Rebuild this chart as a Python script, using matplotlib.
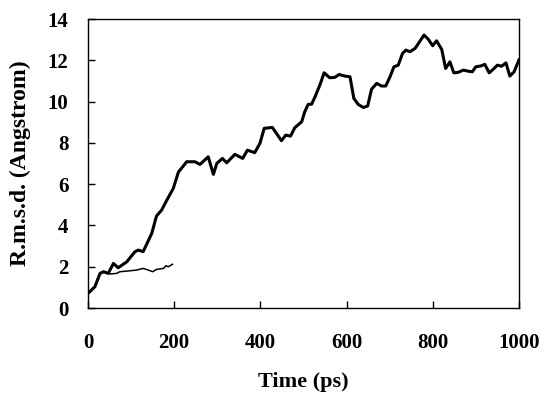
import matplotlib
matplotlib.use('Agg')
import matplotlib.pyplot as plt

# long run (thick line)
time_long = [0, 16, 28, 36, 47, 59, 70, 90, 109, 117, 128, 148, 159, 171, 183, 198,
             210, 217, 229, 248, 260, 279, 291, 299, 312, 322, 341, 359, 370, 387,
             399, 409, 428, 449, 459, 470, 480, 496, 503, 511, 519, 527, 538, 548,
             561, 573, 583, 596, 608, 617, 627, 639, 649, 658, 670, 681, 691, 701,
             710, 720, 730, 738, 747, 759, 780, 790, 800, 809, 821, 830, 840, 849,
             859, 871, 882, 892, 900, 913, 921, 931, 940, 950, 960, 970, 979, 989, 1000]
rmsd_long = [0.71, 1.03, 1.68, 1.76, 1.68, 2.16, 1.95, 2.24, 2.73, 2.81, 2.73, 3.62,
             4.46, 4.75, 5.23, 5.80, 6.60, 6.77, 7.09, 7.09, 6.96, 7.33, 6.48, 7.01,
             7.25, 7.04, 7.45, 7.25, 7.65, 7.53, 7.98, 8.71, 8.75, 8.11, 8.38, 8.33,
             8.74, 9.03, 9.51, 9.87, 9.88, 10.24, 10.80, 11.40, 11.16, 11.18, 11.32,
             11.24, 11.21, 10.16, 9.87, 9.72, 9.79, 10.60, 10.89, 10.76, 10.76, 11.21,
             11.69, 11.77, 12.34, 12.50, 12.42, 12.58, 13.23, 13.02, 12.71, 12.95,
             12.53, 11.61, 11.93, 11.40, 11.42, 11.53, 11.48, 11.45, 11.69, 11.74,
             11.81, 11.40, 11.56, 11.77, 11.72, 11.88, 11.24, 11.45, 12.02]

# short run (thin line)
time_short = [0, 16, 28, 39, 51, 67, 74, 90, 113, 128, 140, 150, 159, 175, 181, 186, 196]
rmsd_short = [0.71, 1.03, 1.68, 1.74, 1.65, 1.68, 1.76, 1.79, 1.84, 1.92, 1.84, 1.76,
              1.87, 1.92, 2.05, 2.00, 2.12]

plt.rcParams['font.family'] = ['Liberation Serif', 'DejaVu Serif']
plt.rcParams['font.weight'] = 'bold'

fig = plt.figure(figsize=(5.51, 3.99), dpi=100)
ax = fig.add_axes([0.1597, 0.228, 0.782, 0.724])

ax.plot(time_long, rmsd_long, color='black', lw=2.2)
ax.plot(time_short, rmsd_short, color='black', lw=1.1)

ax.set_xlim(0, 1000)
ax.set_ylim(0, 14)
ax.set_xticks(range(0, 1001, 200))
ax.set_yticks(range(0, 15, 2))
ax.tick_params(direction='in', length=5, width=1, labelsize=15, color='black')
ax.tick_params(axis='x', pad=18)
ax.tick_params(axis='y', pad=14)
for lab in ax.get_xticklabels() + ax.get_yticklabels():
    lab.set_fontweight('bold')
for sp in ax.spines.values():
    sp.set_linewidth(1)

ax.set_xlabel('Time (ps)', fontsize=16, fontweight='bold', labelpad=14)
ax.set_ylabel('R.m.s.d. (Angstrom)', fontsize=17, fontweight='bold', labelpad=12)

fig.savefig('out.png', dpi=100)
